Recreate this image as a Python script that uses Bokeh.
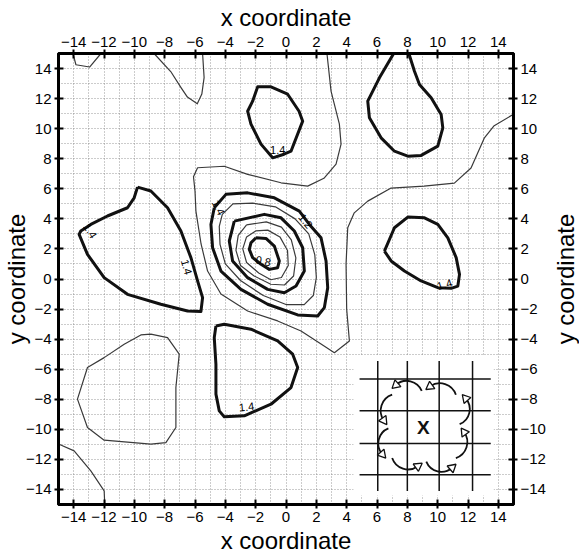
import numpy as np
from bokeh.plotting import figure
from bokeh.layouts import row
from bokeh.models import LinearAxis, FixedTicker
from bokeh.core.properties import value
from bokeh.embed import file_html
from bokeh.resources import INLINE

# ---------------- data ----------------
tick_values = list(range(-14, 15, 2))
grid_values = list(range(-14, 15))

# thin contours
corner_tl_x = [-14.05, -13.85, -12.95, -12.2]
corner_tl_y = [15.0, 14.25, 14.1, 15.0]

top_thin_x = [-8.7, -7.6, -6.9, -6.5, -5.85, -5.55, -5.4, -5.5]
top_thin_y = [15.0, 13.8, 12.7, 12.1, 11.65, 12.3, 13.4, 15.0]

big_thin_x = [2.7, 2.97, 3.52, 3.63, 3.3, 2.5, 1.43, -0.33, -2.53, -4.07, -5.83, -6.1, -6.0,
              -5.94, -5.6, -5.17, -4.29, -2.53, -0.55, 0.99, 2.31, 3.19, 4.18, 4.0, 3.96,
              4.07, 4.5, 5.39, 6.93, 9.1, 11.1, 12.2, 13.07, 13.7, 15.0]
big_thin_y = [15.0, 12.5, 10.3, 8.97, 7.64, 6.7, 6.18, 6.4, 6.96, 7.5, 7.4, 6.8, 5.85,
              4.52, 2.33, 0.53, -1.0, -2.13, -2.79, -3.46, -4.32, -4.9, -4.12, -2.0, 1.0,
              3.41, 4.4, 5.18, 6.05, 6.18, 6.38, 7.38, 9.37, 10.17, 10.96]

blob_bl_x = [-8.91, -7.81, -7.04, -7.26, -7.26, -7.92, -8.91, -11.99, -13.09, -13.75,
             -13.09, -11.99, -10.67, -9.57]
blob_bl_y = [-3.67, -3.9, -5.0, -7.22, -9.88, -10.88, -10.98, -10.72, -9.88, -7.99,
             -5.89, -5.23, -4.34, -3.72]

corner_bl_x = [-15.0, -13.97, -12.87, -11.99, -11.95]
corner_bl_y = [-10.98, -11.43, -12.76, -14.09, -15.0]

ring_b_x = [-4.2, -3.5, -2.2, -0.7, 0.6, 1.5, 1.9, 2.0, 1.8, 1.2, 0.0, -1.5, -3.0, -4.0, -4.35, -4.4]
ring_b_y = [4.3, 5.0, 5.05, 4.8, 4.0, 3.0, 1.6, 0.1, -1.1, -1.7, -1.7, -1.1, -0.1, 1.0, 2.3, 3.5]

ring_d_x = [-2.0, -1.2, -0.4, 0.1, 0.15, -0.3, -1.0, -1.8, -2.6, -2.85, -2.6]
ring_d_y = [3.2, 3.25, 2.8, 1.9, 0.9, 0.1, -0.05, 0.4, 1.1, 2.0, 2.8]

ring_e_x = [-2.6, -1.3, -0.3, 0.35, 0.65, 0.5, -0.1, -1.0, -2.1, -3.0, -3.3, -3.15]
ring_e_y = [3.6, 3.8, 3.45, 2.6, 1.4, 0.2, -0.4, -0.35, 0.2, 0.9, 1.9, 2.9]

# thick contours
ring_a_x = [-4.73, -3.96, -2.53, -0.77, 0.88, 1.54, 2.31, 2.64, 2.75, 2.53, 2.09, 0.77,
            -1.21, -2.97, -4.29, -4.84, -4.95]
ring_a_y = [4.74, 5.63, 5.73, 5.4, 4.52, 3.63, 2.74, 1.2, -0.58, -1.9, -2.46, -2.39,
            -1.68, -0.69, 0.53, 2.08, 3.63]

ring_c_x = [-3.41, -1.43, -0.33, 0.55, 1.1, 1.21, 0.66, -0.11, -1.21, -2.53, -3.52, -3.74]
ring_c_y = [3.85, 4.3, 4.07, 3.19, 2.08, 0.53, -0.47, -0.91, -0.69, 0.09, 1.2, 2.52]

ring_f_x = [-1.98, -1.32, -0.77, -0.44, -0.55, -1.1, -1.65, -2.2, -2.42, -2.31]
ring_f_y = [2.74, 2.7, 2.19, 1.2, 0.75, 0.64, 0.98, 1.42, 1.97, 2.41]

lobe_top_x = [-2.2, -1.87, -0.99, 0.11, 0.86, 1.1, 0.33, -0.13, -0.88, -1.65, -2.31, -2.53]
lobe_top_y = [11.83, 12.78, 12.78, 12.29, 11.16, 10.5, 8.5, 8.3, 8.06, 8.97, 10.3, 11.16]

lobe_tr_x = [7.1, 6.16, 5.39, 5.5, 6.27, 7.15, 8.03, 8.91, 10.01, 10.34, 10.23, 9.57, 8.8, 8.47, 8.1]
lobe_tr_y = [15.0, 13.38, 11.83, 10.72, 9.39, 8.5, 8.17, 8.22, 8.84, 10.05, 10.94, 12.05, 12.94, 13.82, 15.0]

lobe_r_x = [6.49, 7.15, 8.03, 9.13, 10.01, 10.67, 11.22, 11.44, 11.33, 10.89, 10.01, 8.91, 7.81, 6.93]
lobe_r_y = [1.86, 3.41, 4.12, 4.07, 3.63, 2.74, 1.42, 0.31, -0.47, -0.62, -0.58, -0.13, 0.53, 1.2]

lobe_l_x = [-9.79, -8.91, -7.81, -6.93, -6.27, -5.83, -5.5, -5.61, -6.49, -8.25, -10.45,
            -11.99, -13.09, -13.64, -13.53, -12.87, -11.77, -10.45, -10.01]
lobe_l_y = [6.11, 5.85, 4.74, 3.19, 1.42, -0.13, -1.24, -2.17, -2.13, -1.68, -1.02,
            0.09, 1.64, 2.97, 3.19, 3.63, 4.19, 4.74, 5.4]

lobe_b_x = [-4.62, -4.07, -2.31, -0.55, 0.44, 0.77, 0.33, -0.99, -2.75, -4.07, -4.4, -4.62, -4.62, -4.73]
lobe_b_y = [-3.12, -3.01, -3.34, -4.12, -5.0, -5.89, -7.22, -8.33, -9.1, -9.17, -8.77, -7.66, -5.67, -3.9]

# contour labels
label_text = ["1.4", "1.4", "1.4", "1.4", "1.2", "0.8", "1.4", "1.4"]
label_x = [-0.55, -12.9, -6.55, -4.45, 1.3, -1.5, 10.45, -2.6]
label_y = [8.6, 3.2, 0.8, 4.75, 3.85, 1.2, -0.35, -8.5]
label_angle = [0.0, -1.0, -1.3, -1.1, -0.9, -0.2, 0.3, 0.1]

# axis titles
x_title = "x coordinate"
y_title = "y coordinate"

# inset diagram
inset_vx = [6.05, 8.0, 10.1, 12.3]
inset_hy = [-6.66, -8.77, -10.94, -13.02]
inset_x_span = (4.85, 13.5)
inset_y_span = (-5.45, -14.1)
cloud_center = (9.1, -9.8)
bump_start = [(-0.15, 2.35), (2.1, 2.1)]
bump_end = [(-1.85, 2.75), (0.4, 2.65)]
bump_bulge = 0.45


def closed(xs, ys):
    return list(xs) + [xs[0]], list(ys) + [ys[0]]


thin_open = [(corner_tl_x, corner_tl_y), (top_thin_x, top_thin_y),
             (big_thin_x, big_thin_y), (corner_bl_x, corner_bl_y)]
thin_closed = [(blob_bl_x, blob_bl_y), (ring_b_x, ring_b_y),
               (ring_d_x, ring_d_y), (ring_e_x, ring_e_y)]
thick_open = [(lobe_tr_x, lobe_tr_y)]
thick_closed = [(ring_a_x, ring_a_y), (ring_c_x, ring_c_y), (ring_f_x, ring_f_y),
                (lobe_top_x, lobe_top_y), (lobe_r_x, lobe_r_y),
                (lobe_l_x, lobe_l_y), (lobe_b_x, lobe_b_y)]

FONT = "Liberation Sans"
FRAME_H = 451
TOP_B = 44
BOT_B = 50

p = figure(x_range=(-15, 15), y_range=(-15, 15), frame_width=455, frame_height=FRAME_H,
           output_backend="svg", toolbar_location=None,
           min_border_left=50, min_border_top=TOP_B, min_border_right=31,
           min_border_bottom=BOT_B)
p.background_fill_color = "white"
p.border_fill_color = "white"
p.outline_line_color = "black"
p.outline_line_width = 3

p.add_layout(LinearAxis(), "above")
p.add_layout(LinearAxis(), "right")

for ax in p.axis:
    ax.ticker = FixedTicker(ticks=tick_values, minor_ticks=[])
    ax.axis_line_width = 3
    ax.axis_line_color = "black"
    ax.major_tick_line_width = 2
    ax.major_tick_line_color = "black"
    ax.major_tick_out = 4
    ax.major_tick_in = 5
    ax.minor_tick_line_color = None
    ax.major_label_text_font = FONT
    ax.major_label_text_font_size = "15px"
    ax.major_label_text_color = "black"
    ax.major_label_standoff = 3
    ax.axis_label_text_font = FONT
    ax.axis_label_text_font_size = "24px"
    ax.axis_label_text_font_style = "normal"
    ax.axis_label_text_color = "black"

for ax in p.xaxis:
    ax.axis_label = x_title
p.left[0].axis_label = y_title

p.above[0].axis_label_standoff = 3
p.below[0].axis_label_standoff = 2
p.left[0].axis_label_standoff = -7

for g in (p.xgrid, p.ygrid):
    g.ticker = FixedTicker(ticks=grid_values)
    g.grid_line_color = "#808080"
    g.grid_line_alpha = 0.8
    g.grid_line_dash = "1 2"
    g.grid_line_width = 1

# inset white background
p.quad(left=[4.45], right=[13.7], bottom=[-14.4], top=[-5.1],
       fill_color="white", line_color=None)

# contours
xs, ys = [], []
for cx_, cy_ in thin_open:
    xs.append(cx_); ys.append(cy_)
for cx_, cy_ in thin_closed:
    a, b = closed(cx_, cy_); xs.append(a); ys.append(b)
p.multi_line(xs, ys, line_color="#3a3a3a", line_width=1.2, line_join="round")

xs, ys = [], []
for cx_, cy_ in thick_open:
    xs.append(cx_); ys.append(cy_)
for cx_, cy_ in thick_closed:
    a, b = closed(cx_, cy_); xs.append(a); ys.append(b)
p.multi_line(xs, ys, line_color="#111111", line_width=3, line_join="round")

p.text(x=label_x, y=label_y, text=label_text, angle=label_angle,
       text_font=value(FONT), text_font_size="11px", text_color="black",
       text_align="center", text_baseline="middle")

# inset grid
p.segment(x0=inset_vx, y0=[inset_y_span[0]] * 4, x1=inset_vx, y1=[inset_y_span[1]] * 4,
          line_color="#111111", line_width=1.5)
p.segment(x0=[inset_x_span[0]] * 4, y0=inset_hy, x1=[inset_x_span[1]] * 4, y1=inset_hy,
          line_color="#111111", line_width=1.5)

# cloud of circulating arrows
ccx, ccy = cloud_center
arc_x, arc_y, arc_r, arc_a0, arc_a1, head_x, head_y, head_ang = [], [], [], [], [], [], [], []
for k in range(4):
    th = k * np.pi / 2
    rot = np.array([[np.cos(th), -np.sin(th)], [np.sin(th), np.cos(th)]])
    for s_, e_ in zip(bump_start, bump_end):
        S = rot @ np.array(s_)
        E = rot @ np.array(e_)
        M = (S + E) / 2
        d = E - S
        c = np.linalg.norm(d)
        n = np.array([-d[1], d[0]]) / c
        if np.dot(n, M) < 0:
            n = -n
        s = bump_bulge
        r = (c * c / 4 + s * s) / (2 * s)
        C = M - n * (r - s)
        a0 = np.arctan2(S[1] - C[1], S[0] - C[0])
        a1 = np.arctan2(E[1] - C[1], E[0] - C[0])
        arc_x.append(C[0] + ccx); arc_y.append(C[1] + ccy); arc_r.append(r)
        arc_a0.append(a0); arc_a1.append(a1)
        head_x.append(E[0] + ccx); head_y.append(E[1] + ccy); head_ang.append(a1)

p.arc(x=arc_x, y=arc_y, radius=arc_r, start_angle=arc_a0, end_angle=arc_a1,
      direction="anticlock", line_color="#111111", line_width=1.8)
p.scatter(x=head_x, y=head_y, angle=head_ang, marker="triangle", size=9,
          fill_color="white", line_color="#111111", line_width=1.3)

p.text(x=[ccx - 0.05], y=[ccy - 0.05], text=["X"], text_font=value(FONT),
       text_font_size="19px", text_font_style="bold", text_color="#111111",
       text_align="center", text_baseline="middle")

# narrow companion panel carrying the right-hand axis title (reads bottom-to-top)
p2 = figure(x_range=(0, 1), y_range=(-15, 15), frame_width=1, frame_height=FRAME_H,
            output_backend="svg", toolbar_location=None,
            min_border_left=0, min_border_right=0, min_border_top=TOP_B,
            min_border_bottom=BOT_B)
p2.outline_line_color = None
p2.background_fill_color = "white"
p2.border_fill_color = "white"
p2.xaxis.visible = False
p2.xgrid.visible = False
p2.ygrid.visible = False
ax2 = p2.yaxis[0]
ax2.ticker = FixedTicker(ticks=[])
ax2.axis_line_color = None
ax2.major_tick_line_color = None
ax2.minor_tick_line_color = None
ax2.major_label_text_font_size = "0px"
ax2.major_label_standoff = 0
ax2.major_tick_out = 0
ax2.major_tick_in = 0
ax2.axis_label = y_title
ax2.axis_label_text_font = FONT
ax2.axis_label_text_font_size = "24px"
ax2.axis_label_text_font_style = "normal"
ax2.axis_label_text_color = "black"
ax2.axis_label_standoff = 0

layout = row(p, p2, spacing=0)
open("out.html", "w").write(file_html(layout, INLINE))
